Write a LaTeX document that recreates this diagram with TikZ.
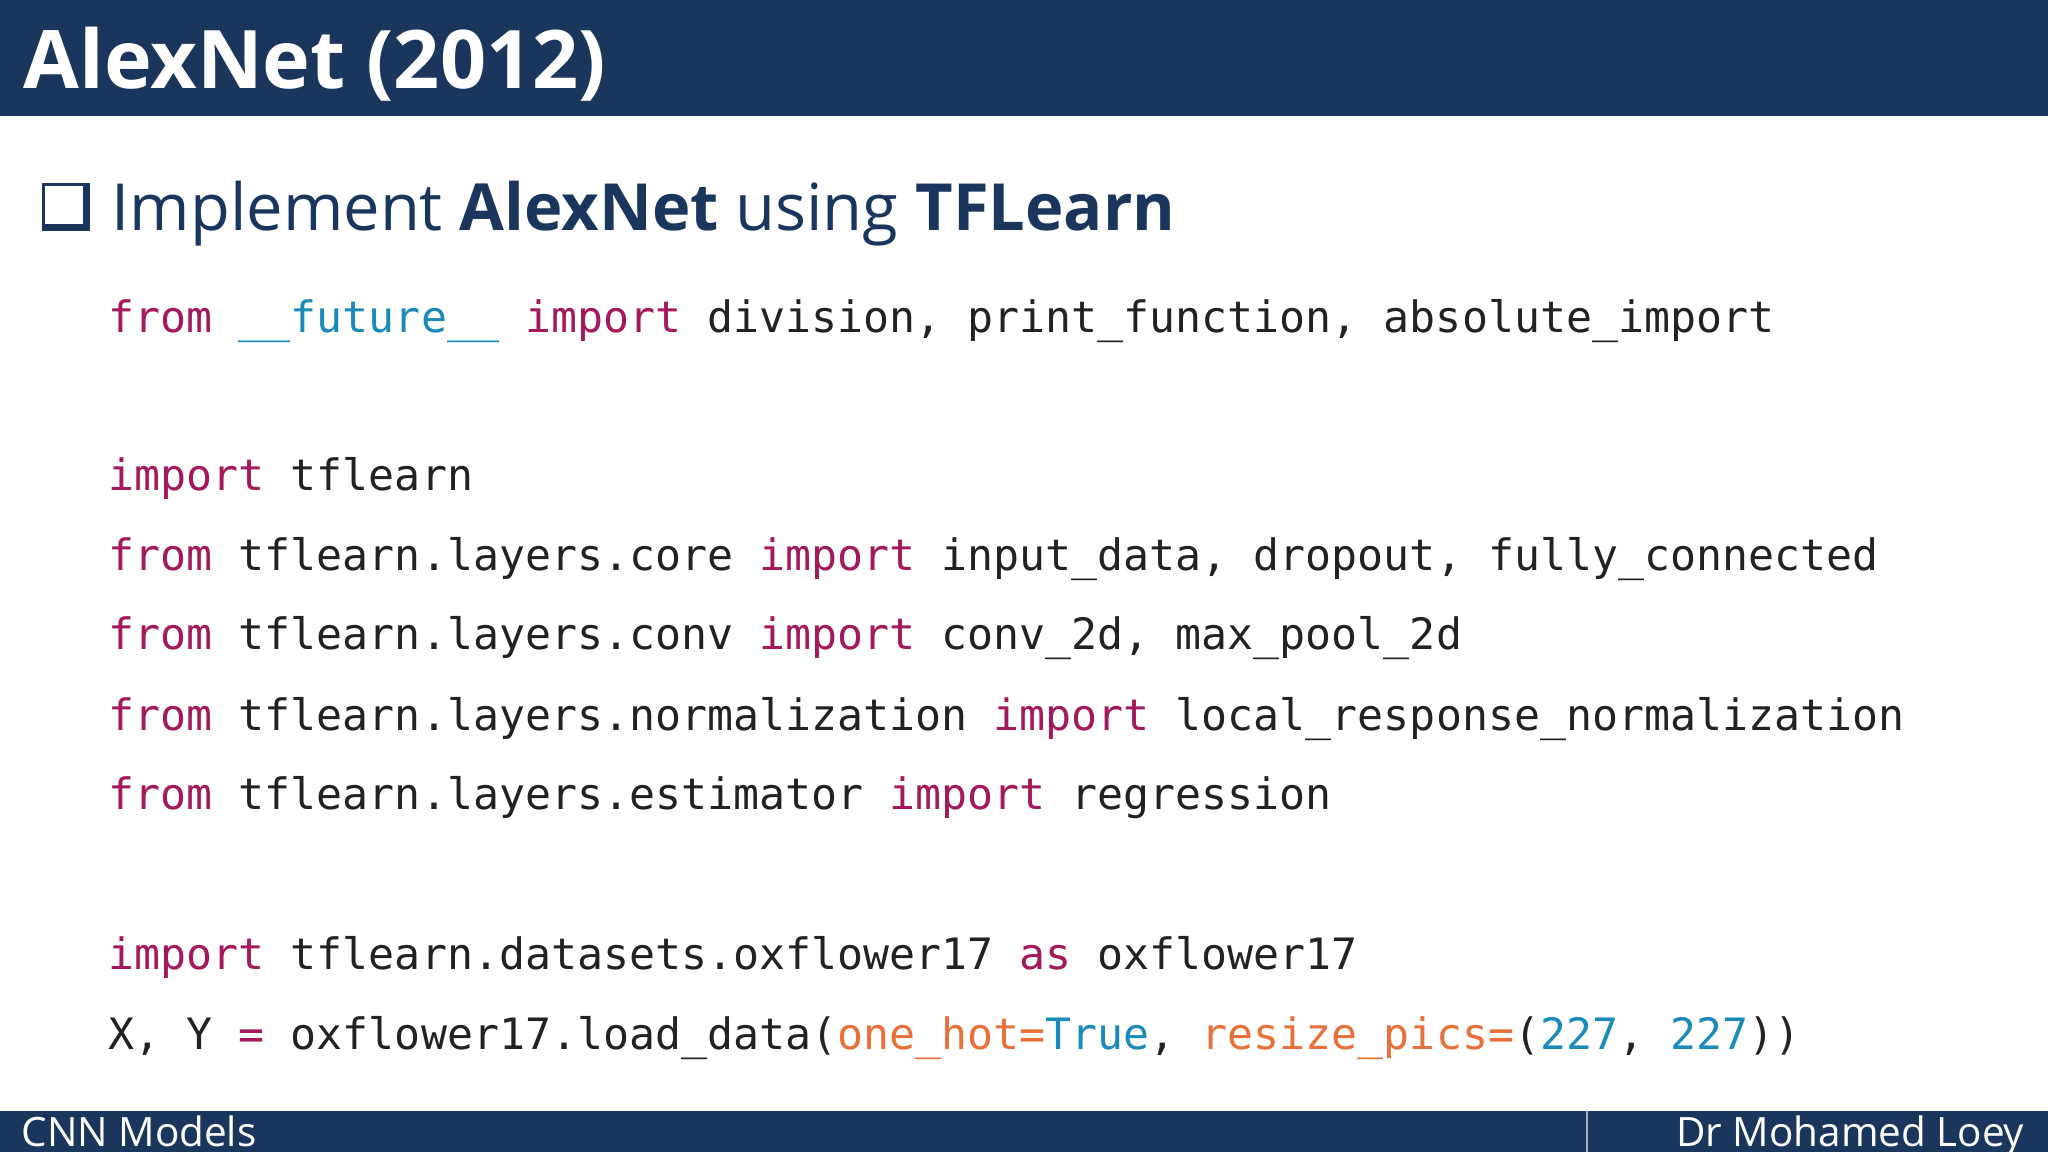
\documentclass[tikz,border=0pt]{standalone}
\usepackage{fontspec}
\setmainfont{Open Sans}
\newfontfamily\codefont{DejaVu Sans Mono}[Scale=1.0]
\definecolor{navy}{HTML}{1B365D}
\definecolor{kw}{HTML}{A3195B}
\definecolor{cblue}{HTML}{1A8BB8}
\definecolor{corange}{HTML}{E8703A}
\definecolor{ink}{HTML}{222222}
\newcommand{\kw}[1]{\textcolor{kw}{#1}}
\newcommand{\cb}[1]{\textcolor{cblue}{#1}}
\newcommand{\co}[1]{\textcolor{corange}{#1}}
\begin{document}
\begin{tikzpicture}[
    code/.style={anchor=base west, inner sep=0pt, text=ink,
        font=\codefont\fontsize{12.3}{14}\selectfont},
    bar/.style={fill=navy}
]
    \useasboundingbox (0,0) rectangle (20.48,-11.52);
    % header and footer
    \fill[bar] (0,0) rectangle (20.48,-1.16);
    \fill[bar] (0,-11.11) rectangle (20.48,-11.52);
    \draw[white!60!navy, line width=0.6pt] (15.87,-11.11) -- (15.87,-11.52);
    \node[anchor=base west, inner sep=0pt, text=white,
        font=\bfseries\fontsize{23}{26}\selectfont] (title) at (0.23,-0.89) {AlexNet (2012)};
    \node[anchor=base west, inner sep=0pt, text=white,
        font=\fontsize{11.5}{13}\selectfont] (course) at (0.21,-11.46) {CNN Models};
    \node[anchor=base east, inner sep=0pt, text=white,
        font=\fontsize{11.5}{13}\selectfont] (author) at (20.25,-11.46) {Dr Mohamed Loey};
    % bullet
    \fill[navy] (0.42,-1.83) -- (0.90,-1.83) -- (0.90,-2.31) -- (0.42,-2.31) -- cycle;
    \fill[white] (0.45,-1.86) rectangle (0.83,-2.24);
    \node[anchor=base west, inner sep=0pt, text=navy,
        font=\fontsize{18.5}{22}\selectfont] (head) at (1.11,-2.31)
        {Implement \textbf{AlexNet} using \textbf{TFLearn}};
    % code lines
    \node[code] (l1) at (1.08,-3.33) {\kw{from} \cb{\_\_future\_\_} \kw{import} division, print\_function, absolute\_import};
    \node[code] (l2) at (1.08,-4.91) {\kw{import} tflearn};
    \node[code] (l3) at (1.08,-5.71) {\kw{from} tflearn.layers.core \kw{import} input\_data, dropout, fully\_connected};
    \node[code] (l4) at (1.08,-6.50) {\kw{from} tflearn.layers.conv \kw{import} conv\_2d, max\_pool\_2d};
    \node[code] (l5) at (1.08,-7.30) {\kw{from} tflearn.layers.normalization \kw{import} local\_response\_normalization};
    \node[code] (l6) at (1.08,-8.10) {\kw{from} tflearn.layers.estimator \kw{import} regression};
    \node[code] (l7) at (1.08,-9.69) {\kw{import} tflearn.datasets.oxflower17 \kw{as} oxflower17};
    \node[code] (l8) at (1.08,-10.49) {X, Y \kw{=} oxflower17.load\_data(\co{one\_hot=}\cb{True}, \co{resize\_pics=}(\cb{227}, \cb{227}))};
\end{tikzpicture}
\end{document}
